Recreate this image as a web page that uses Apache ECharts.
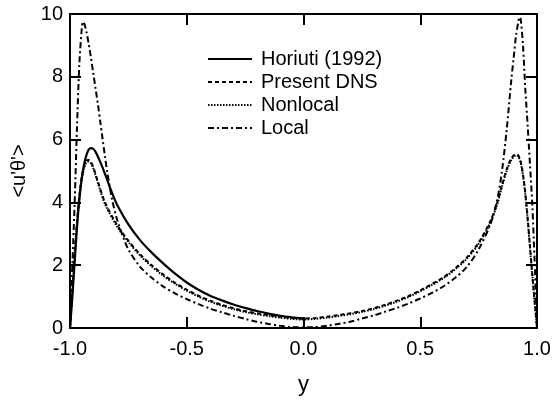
<!DOCTYPE html>
<html>
<head>
<meta charset="utf-8">
<script src="https://cdn.jsdelivr.net/npm/echarts@6/dist/echarts.min.js"></script>
<style>
html,body{margin:0;padding:0;background:#fff;}
#c{width:558px;height:403px;}
</style>
</head>
<body>
<div id="c"></div>
<script>
// Horiuti (1992): left half only
const horiutiY = [-1.0,-0.99,-0.98,-0.97,-0.96,-0.95,-0.94,-0.93,-0.92,-0.91,-0.9,-0.89,-0.88,-0.86,-0.84,-0.82,-0.8,-0.75,-0.7,-0.65,-0.6,-0.55,-0.5,-0.45,-0.4,-0.35,-0.3,-0.25,-0.2,-0.15,-0.1,-0.05,0.0];
const horiutiV = [0,1.0,2.1,3.2,4.1,4.75,5.2,5.5,5.68,5.73,5.7,5.6,5.45,5.1,4.7,4.3,3.95,3.3,2.8,2.4,2.05,1.73,1.45,1.22,1.03,0.88,0.75,0.64,0.54,0.46,0.39,0.34,0.3];

// Present DNS
const dnsY = [-1.0,-0.99,-0.98,-0.97,-0.96,-0.95,-0.94,-0.93,-0.92,-0.91,-0.9,-0.88,-0.85,-0.8,-0.75,-0.7,-0.65,-0.6,-0.55,-0.5,-0.45,-0.4,-0.35,-0.3,-0.25,-0.2,-0.15,-0.1,-0.05,0.0,0.05,0.1,0.15,0.2,0.25,0.3,0.35,0.4,0.45,0.5,0.55,0.6,0.65,0.7,0.75,0.8,0.83,0.85,0.87,0.89,0.91,0.92,0.93,0.94,0.95,0.96,0.97,0.98,0.99,1.0];
const dnsV = [0,1.2,2.4,3.4,4.2,4.8,5.15,5.33,5.35,5.28,5.12,4.65,4.0,3.3,2.78,2.35,2.0,1.7,1.44,1.22,1.03,0.87,0.74,0.63,0.54,0.47,0.41,0.36,0.32,0.3,0.32,0.36,0.41,0.47,0.54,0.63,0.74,0.87,1.02,1.2,1.4,1.62,1.9,2.25,2.72,3.4,4.0,4.55,5.05,5.4,5.54,5.5,5.3,4.9,4.3,3.5,2.6,1.7,0.85,0];

// Nonlocal
const nonlocalY = [-1.0,-0.99,-0.98,-0.97,-0.96,-0.95,-0.94,-0.93,-0.92,-0.91,-0.9,-0.88,-0.85,-0.8,-0.75,-0.7,-0.65,-0.6,-0.55,-0.5,-0.45,-0.4,-0.35,-0.3,-0.25,-0.2,-0.15,-0.1,-0.05,0.0,0.05,0.1,0.15,0.2,0.25,0.3,0.35,0.4,0.45,0.5,0.55,0.6,0.65,0.7,0.75,0.8,0.83,0.85,0.87,0.89,0.91,0.92,0.93,0.94,0.95,0.96,0.97,0.98,0.99,1.0];
const nonlocalV = [0,1.1,2.3,3.3,4.1,4.7,5.08,5.27,5.3,5.24,5.08,4.6,3.95,3.25,2.74,2.31,1.96,1.66,1.41,1.19,1.0,0.84,0.71,0.6,0.51,0.44,0.38,0.33,0.29,0.27,0.29,0.33,0.38,0.44,0.51,0.6,0.71,0.84,0.99,1.17,1.37,1.59,1.87,2.21,2.68,3.35,3.95,4.5,5.0,5.35,5.5,5.46,5.26,4.85,4.25,3.45,2.55,1.65,0.8,0];

// Local
const localY = [-1.0,-0.99,-0.98,-0.97,-0.96,-0.95,-0.945,-0.94,-0.93,-0.92,-0.91,-0.9,-0.89,-0.88,-0.87,-0.86,-0.85,-0.84,-0.82,-0.8,-0.77,-0.75,-0.7,-0.65,-0.6,-0.55,-0.5,-0.45,-0.4,-0.35,-0.3,-0.25,-0.2,-0.15,-0.1,-0.05,0.0,0.05,0.1,0.15,0.2,0.25,0.3,0.35,0.4,0.45,0.5,0.55,0.6,0.65,0.7,0.75,0.8,0.83,0.85,0.87,0.89,0.9,0.91,0.92,0.925,0.93,0.94,0.95,0.96,0.97,0.98,0.99,1.0];
const localV = [0,2.0,4.0,6.4,8.4,9.5,9.75,9.72,9.45,9.05,8.6,8.1,7.6,7.1,6.55,6.0,5.45,4.95,4.1,3.5,2.85,2.5,1.95,1.6,1.32,1.1,0.92,0.76,0.62,0.5,0.39,0.29,0.2,0.13,0.07,0.03,0.02,0.03,0.07,0.13,0.2,0.3,0.4,0.52,0.64,0.78,0.94,1.12,1.33,1.6,1.95,2.5,3.3,4.1,5.0,6.3,7.9,8.6,9.3,9.75,9.9,9.85,9.0,7.6,6.45,5.2,3.9,2.1,0];

const xTicks = [-1.0,-0.5,0.0,0.5,1.0];
const yTicks = [0,2,4,6,8,10];

function pairs(xs, vs){ return xs.map((x,i)=>[x, vs[i]]); }

const font = 'Liberation Sans, Arial, Helvetica, sans-serif';
const axisLine = {show:true, onZero:false, lineStyle:{color:'#000', width:2}};
const tick = {show:true, inside:true, length:11, lineStyle:{color:'#000', width:2}};

const chart = echarts.init(document.getElementById('c'), null, {renderer:'canvas'});
chart.setOption({
  animation:false,
  backgroundColor:'#fff',
  grid:{left:70, right:21, top:14, bottom:75, containLabel:false},
  legend:{
    orient:'vertical', left:202, top:44,
    itemWidth:44, itemHeight:14, itemGap:3,
    itemStyle:{opacity:0},
    textStyle:{fontFamily:font, fontSize:20, color:'#000', padding:[0,0,0,4]},
    data:['Horiuti (1992)','Present DNS','Nonlocal','Local']
  },
  xAxis:[{
    type:'value', min:-1, max:1, interval:0.5,
    axisLine:axisLine, axisTick:tick,
    axisLabel:{fontFamily:font, fontSize:20, color:'#000', margin:11,
      formatter:v=>v.toFixed(1)},
    splitLine:{show:false},
    name:'y', nameLocation:'middle', nameGap:46,
    nameTextStyle:{fontFamily:font, fontSize:22, color:'#000'}
  },{
    type:'value', min:-1, max:1, interval:0.5, position:'top',
    axisLine:axisLine, axisTick:tick,
    axisLabel:{show:false}, splitLine:{show:false}
  }],
  yAxis:[{
    type:'value', min:0, max:10, interval:2,
    axisLine:axisLine, axisTick:tick,
    axisLabel:{fontFamily:font, fontSize:20, color:'#000', margin:7},
    splitLine:{show:false},
    name:"<u'θ'>", nameLocation:'middle', nameGap:32, nameRotate:90,
    nameTextStyle:{fontFamily:font, fontSize:20, color:'#000'}
  },{
    type:'value', min:0, max:10, interval:2, position:'right',
    axisLine:axisLine, axisTick:tick,
    axisLabel:{show:false}, splitLine:{show:false}
  }],
  series:[
    {name:'Horiuti (1992)', type:'line', data:pairs(horiutiY,horiutiV), showSymbol:false, symbol:'none',
      smooth:0.3, lineStyle:{color:'#000', width:2.2, type:'solid'}, itemStyle:{color:'#000'}},
    {name:'Present DNS', type:'line', data:pairs(dnsY,dnsV), showSymbol:false, symbol:'none',
      smooth:0.3, lineStyle:{color:'#000', width:2, type:[4,3]}, itemStyle:{color:'#000'}},
    {name:'Nonlocal', type:'line', data:pairs(nonlocalY,nonlocalV), showSymbol:false, symbol:'none',
      smooth:0.3, lineStyle:{color:'#000', width:2, type:[1.5,1.5]}, itemStyle:{color:'#000'}},
    {name:'Local', type:'line', data:pairs(localY,localV), showSymbol:false, symbol:'none',
      smooth:0.3, lineStyle:{color:'#000', width:2, type:[6,3,2,3]}, itemStyle:{color:'#000'}}
  ]
});
</script>
</body>
</html>
